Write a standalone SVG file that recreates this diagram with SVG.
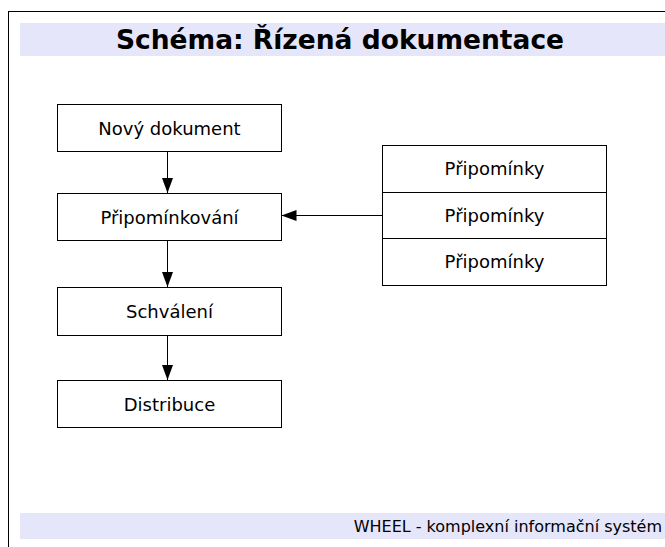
<svg xmlns="http://www.w3.org/2000/svg" width="665" height="547" viewBox="0 0 665 547">
<style>
.box{fill:#fff;stroke:#000;stroke-width:1}
.lbl{font-family:"DejaVu Sans","Verdana",sans-serif;font-size:18px;fill:#000;text-anchor:middle}
.edge{stroke:#000;stroke-width:1;fill:none;marker-end:url(#ah)}
</style>
<defs>
<marker id="ah" markerUnits="userSpaceOnUse" markerWidth="16" markerHeight="12" refX="15" refY="5.5" orient="auto">
<path d="M0,0 L15,5.5 L0,11 Z" fill="#000"/>
</marker>
</defs>
<rect x="0" y="0" width="665" height="547" fill="#fff"/>
<rect x="8.5" y="11.5" width="700" height="600" fill="none" stroke="#000" stroke-width="1"/>
<rect x="20" y="23" width="660" height="33" fill="#E6E6FA"/>
<text x="340" y="48.5" font-family="DejaVu Sans, Verdana, sans-serif" font-size="26.5" font-weight="bold" text-anchor="middle" fill="#000">Schéma: Řízená dokumentace</text>
<rect x="20" y="513" width="660" height="26" fill="#E6E6FA"/>
<text x="662" y="532" font-family="DejaVu Sans, Verdana, sans-serif" font-size="16" text-anchor="end" fill="#000">WHEEL - komplexní informační systém</text>
<g id="connectors">
<line class="edge" x1="167.5" y1="151.5" x2="167.5" y2="193"/>
<line class="edge" x1="167.5" y1="240.5" x2="167.5" y2="287"/>
<line class="edge" x1="167.5" y1="335.5" x2="167.5" y2="380"/>
<line class="edge" x1="382" y1="215.5" x2="281.5" y2="215.5"/>
</g>
<g id="novy">
<rect class="box" x="57.5" y="104.5" width="224" height="47"/>
<text class="lbl" x="169.5" y="134.5">Nový dokument</text>
</g>
<g id="pripominkovani">
<rect class="box" x="57.5" y="193.5" width="224" height="47"/>
<text class="lbl" x="169.5" y="223.5">Připomínkování</text>
</g>
<g id="schvaleni">
<rect class="box" x="57.5" y="287.5" width="224" height="48"/>
<text class="lbl" x="169.5" y="318">Schválení</text>
</g>
<g id="distribuce">
<rect class="box" x="57.5" y="380.5" width="224" height="47"/>
<text class="lbl" x="169.5" y="410.5">Distribuce</text>
</g>
<g id="pripominky">
<rect class="box" x="382.5" y="145.5" width="224" height="47"/>
<text class="lbl" x="494.5" y="175">Připomínky</text>
<rect class="box" x="382.5" y="192.5" width="224" height="46"/>
<text class="lbl" x="494.5" y="221.5">Připomínky</text>
<rect class="box" x="382.5" y="238.5" width="224" height="47"/>
<text class="lbl" x="494.5" y="268">Připomínky</text>
</g>
</svg>
